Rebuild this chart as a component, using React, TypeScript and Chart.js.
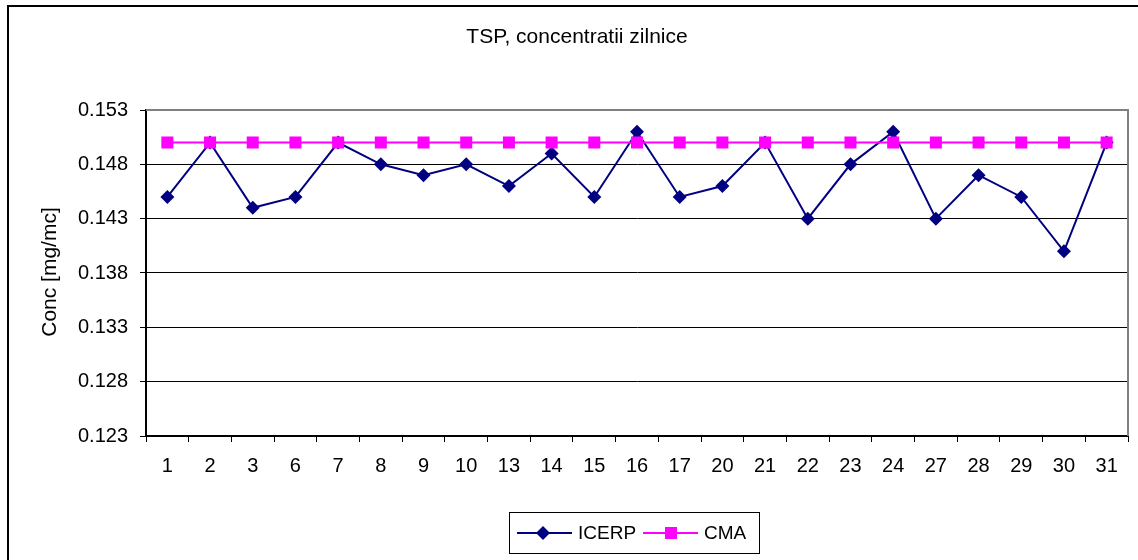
import React, { useEffect, useRef } from "react";
import { Chart, registerables } from "chart.js";

Chart.register(...registerables);

const categories = ["1","2","3","6","7","8","9","10","13","14","15","16","17","20","21","22","23","24","27","28","29","30","31"];
const icerpValues = [0.145,0.150,0.144,0.145,0.150,0.148,0.147,0.148,0.146,0.149,0.145,0.151,0.145,0.146,0.150,0.143,0.148,0.151,0.143,0.147,0.145,0.140,0.150];
const cmaValues = [0.150,0.150,0.150,0.150,0.150,0.150,0.150,0.150,0.150,0.150,0.150,0.150,0.150,0.150,0.150,0.150,0.150,0.150,0.150,0.150,0.150,0.150,0.150];
const yTickValues = [0.123,0.128,0.133,0.138,0.143,0.148,0.153];
const chartTitle = "TSP, concentratii zilnice";
const yAxisTitle = "Conc [mg/mc]";
const seriesNames = ["ICERP", "CMA"];

const FONT = "'Liberation Sans', Arial, sans-serif";
const NAVY = "#000080";
const MAGENTA = "#FF00FF";

const decorPlugin = {
  id: "decor",
  beforeDraw(chart: any) {
    const ctx = chart.ctx;
    ctx.save();
    ctx.fillStyle = "#ffffff";
    ctx.fillRect(0, 0, chart.width, chart.height);
    ctx.restore();
  },
  afterDraw(chart: any) {
    const ctx = chart.ctx;
    const a = chart.chartArea;
    ctx.save();
    ctx.strokeStyle = "#000";
    ctx.lineWidth = 2;
    ctx.strokeRect(8, 6, 1150, 600);
    ctx.strokeStyle = "#808080";
    ctx.lineWidth = 2;
    ctx.beginPath();
    ctx.moveTo(a.left, a.top);
    ctx.lineTo(a.right, a.top);
    ctx.lineTo(a.right, a.bottom);
    ctx.stroke();
    ctx.fillStyle = "#000";
    ctx.font = "21px " + FONT;
    ctx.textAlign = "center";
    ctx.textBaseline = "middle";
    ctx.fillText(chartTitle, 577, 37);
    ctx.save();
    ctx.translate(50, 272);
    ctx.rotate(-Math.PI / 2);
    ctx.fillText(yAxisTitle, 0, 0);
    ctx.restore();
    ctx.strokeStyle = "#000";
    ctx.lineWidth = 1;
    ctx.strokeRect(509.5, 512.5, 250, 41);
    const ly = 533;
    ctx.lineWidth = 2;
    ctx.strokeStyle = NAVY;
    ctx.beginPath();
    ctx.moveTo(517, ly);
    ctx.lineTo(572, ly);
    ctx.stroke();
    ctx.fillStyle = NAVY;
    ctx.beginPath();
    ctx.moveTo(543, ly - 7);
    ctx.lineTo(550, ly);
    ctx.lineTo(543, ly + 7);
    ctx.lineTo(536, ly);
    ctx.closePath();
    ctx.fill();
    ctx.strokeStyle = MAGENTA;
    ctx.beginPath();
    ctx.moveTo(643, ly);
    ctx.lineTo(698, ly);
    ctx.stroke();
    ctx.fillStyle = MAGENTA;
    ctx.fillRect(665, ly - 6, 12, 12);
    ctx.fillStyle = "#000";
    ctx.textAlign = "left";
    ctx.font = "19px " + FONT;
    ctx.fillText(seriesNames[0], 578, ly + 1);
    ctx.fillText(seriesNames[1], 704, ly + 1);
    ctx.restore();
  },
};

export default function App() {
  const canvasRef = useRef<HTMLCanvasElement | null>(null);
  useEffect(() => {
    document.body.style.margin = "0";
    const canvas = canvasRef.current;
    if (!canvas) return;
    const chart = new Chart(canvas, {
      type: "line",
      data: {
        labels: categories,
        datasets: [
          {
            label: seriesNames[0],
            data: icerpValues,
            order: 1,
            borderColor: NAVY,
            backgroundColor: NAVY,
            borderWidth: 2,
            pointStyle: "rectRot",
            pointRadius: 7,
            pointHoverRadius: 7,
            pointBorderWidth: 0,
            tension: 0,
          },
          {
            label: seriesNames[1],
            data: cmaValues,
            order: 0,
            borderColor: MAGENTA,
            backgroundColor: MAGENTA,
            borderWidth: 2,
            pointStyle: "rect",
            pointRadius: 8.5,
            pointHoverRadius: 8.5,
            pointBorderWidth: 0,
            tension: 0,
          },
        ],
      },
      options: {
        animation: false,
        responsive: false,
        devicePixelRatio: 1,
        layout: { padding: { left: 0, right: 10, top: 110, bottom: 0 } },
        plugins: {
          legend: { display: false },
          title: { display: false },
          tooltip: { enabled: false },
        },
        scales: {
          x: {
            offset: true,
            afterFit: (s: any) => { s.height = 124; },
            grid: {
              offset: true,
              drawOnChartArea: false,
              drawTicks: true,
              tickLength: 6,
              color: "#000",
              lineWidth: 1,
            },
            border: { display: true, color: "#000", width: 2 },
            ticks: {
              color: "#000",
              font: { family: FONT, size: 20 },
              padding: 12,
              maxRotation: 0,
              autoSkip: false,
            },
          },
          y: {
            min: 0.123,
            max: 0.153,
            afterFit: (s: any) => { s.width = 146; },
            afterBuildTicks: (s: any) => { s.ticks = yTickValues.map((v) => ({ value: v })); },
            grid: {
              drawOnChartArea: true,
              drawTicks: true,
              tickLength: 6,
              color: "#000",
              lineWidth: 1,
            },
            border: { display: true, color: "#000", width: 2 },
            ticks: {
              color: "#000",
              font: { family: FONT, size: 20 },
              padding: 12,
              callback: (v: any) => Number(v).toFixed(3),
            },
          },
        },
      },
      plugins: [decorPlugin],
    });
    return () => chart.destroy();
  }, []);
  return (
    <div style={{ position: "absolute", left: 0, top: 0, width: 1138, height: 560 }}>
      <canvas ref={canvasRef} width={1138} height={560} style={{ width: 1138, height: 560 }} />
    </div>
  );
}
